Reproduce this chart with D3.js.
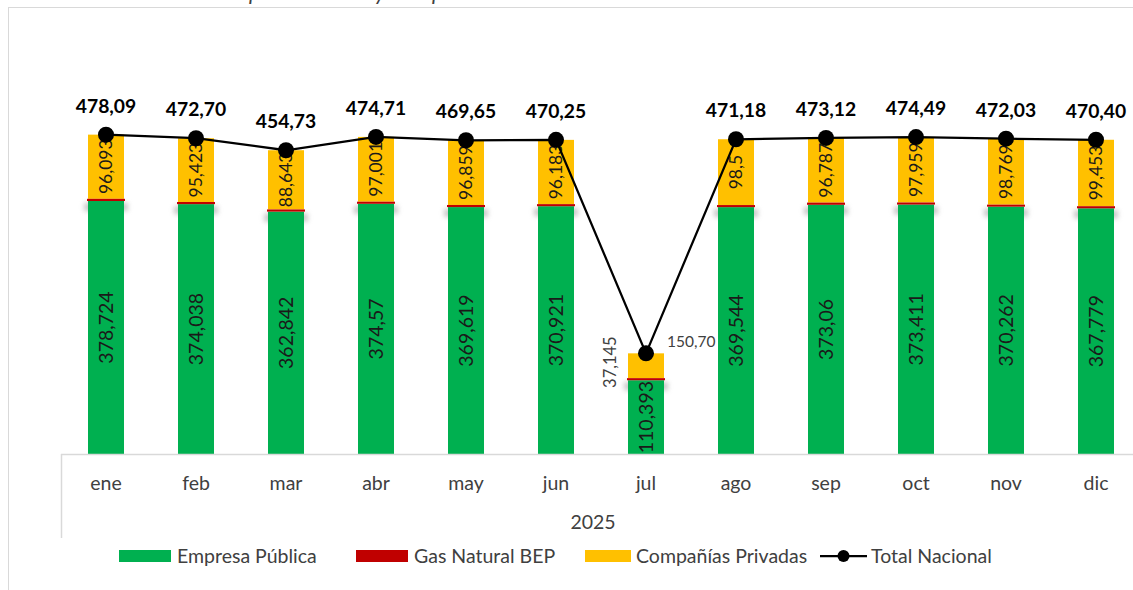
<!DOCTYPE html>
<html>
<head>
<meta charset="utf-8">
<script src="https://cdn.jsdelivr.net/npm/d3@7"></script>
<style>
  body { margin: 0; background: #fff; }
  svg { display: block; font-family: Lato, "Open Sans", sans-serif; }
</style>
</head>
<body>
<div id="chart"></div>
<script>
const months = ['ene', 'feb', 'mar', 'abr', 'may', 'jun', 'jul', 'ago', 'sep', 'oct', 'nov', 'dic']
const year = '2025'
const empresaPublica = [378.724, 374.038, 362.842, 374.57, 369.619, 370.921, 110.393, 369.544, 373.06, 373.411, 370.262, 367.779]
const gasNatural = [3.273, 3.239, 3.245, 3.139, 3.172, 3.146, 3.162, 3.136, 3.273, 3.12, 2.999, 3.168]
const privadas = [96.093, 95.423, 88.643, 97.001, 96.859, 96.183, 37.145, 98.5, 96.787, 97.959, 98.769, 99.453]
const totalNacional = [478.09, 472.70, 454.73, 474.71, 469.65, 470.25, 150.70, 471.18, 473.12, 474.49, 472.03, 470.40]
const seriesNames = ['Empresa Pública', 'Gas Natural BEP', 'Compañías Privadas', 'Total Nacional']
const seriesColors = ['#00b050', '#c00000', '#ffc000', '#000000']

const w = 1133
const h = 590
const axisY = 454
const fmt = (v, dec) => {
  const s = dec == null ? String(v) : v.toFixed(dec)
  return s.replace('.', ',')
}

const svg = d3.select('#chart')
  .append('svg')
  .attr('width', w)
  .attr('height', h)

const defs = svg.append('defs')
defs.append('filter')
  .attr('id', 'soft')
  .attr('x', '-50%').attr('y', '-100%')
  .attr('width', '200%').attr('height', '300%')
  .append('feGaussianBlur')
  .attr('stdDeviation', 2.5)

// frame (cut off at top/right)
svg.append('rect')
  .attr('x', 8.5).attr('y', 7.5)
  .attr('width', w + 20).attr('height', h + 20)
  .attr('fill', 'none')
  .attr('stroke', '#d9d9d9')

// title, sits above the picture: only descenders show
const title = svg.append('text')
  .attr('y', 0)
  .attr('font-size', 22)
  .attr('font-style', 'italic')
  .attr('fill', '#404040')
  .text('Producción de Crudo: Empresa Pública y Compañías Privadas')
const pIdx = title.text().indexOf('Empresa') + 2
const off = title.node().getSubStringLength(0, pIdx)
title.attr('x', 249 - off)

const xScale = d3.scaleBand()
  .domain(months)
  .range([61, 1141])
  .paddingInner(0.6)
  .paddingOuter(0.3)

const yScale = d3.scaleLinear()
  .domain([0, 500])
  .range([axisY, 120])

const bw = xScale.bandwidth()
const cx = m => xScale(m) + bw / 2

const rows = months.map((m, i) => ({
  m, i,
  g: empresaPublica[i],
  r: gasNatural[i],
  y: privadas[i],
  t: totalNacional[i]
}))

// soft shadow under the top of the green bars
svg.append('g')
  .selectAll('rect')
  .data(rows)
  .enter()
  .append('rect')
  .attr('x', d => xScale(d.m) - 4)
  .attr('y', d => yScale(d.g) + 2)
  .attr('width', bw + 8)
  .attr('height', 8)
  .attr('fill', '#9a9a9a')
  .attr('opacity', 0.55)
  .attr('filter', 'url(#soft)')

const bars = svg.append('g')
bars.selectAll('rect.green')
  .data(rows)
  .enter()
  .append('rect')
  .attr('class', 'green')
  .attr('x', d => xScale(d.m))
  .attr('y', d => yScale(d.g))
  .attr('width', bw)
  .attr('height', d => yScale(0) - yScale(d.g))
  .attr('fill', seriesColors[0])

bars.selectAll('rect.yellow')
  .data(rows)
  .enter()
  .append('rect')
  .attr('class', 'yellow')
  .attr('x', d => xScale(d.m))
  .attr('y', d => yScale(d.g + d.r + d.y))
  .attr('width', bw)
  .attr('height', d => yScale(d.g + d.r) - yScale(d.g + d.r + d.y))
  .attr('fill', seriesColors[2])

bars.selectAll('rect.red')
  .data(rows)
  .enter()
  .append('rect')
  .attr('class', 'red')
  .attr('x', d => xScale(d.m) - 1)
  .attr('y', d => yScale(d.g + d.r))
  .attr('width', bw + 2)
  .attr('height', d => yScale(d.g) - yScale(d.g + d.r))
  .attr('fill', seriesColors[1])

// green labels
svg.append('g')
  .selectAll('text')
  .data(rows)
  .enter()
  .append('text')
  .attr('transform', d => `translate(${cx(d.m)},${(yScale(d.g) + yScale(0)) / 2}) rotate(-90)`)
  .attr('text-anchor', 'middle')
  .attr('dy', '0.35em')
  .attr('font-size', 19.5)
  .attr('fill', '#1a1a1a')
  .text(d => fmt(d.g))

// yellow labels (july sits outside, to the left)
svg.append('g')
  .selectAll('text')
  .data(rows)
  .enter()
  .append('text')
  .attr('transform', d => {
    const top = yScale(d.g + d.r + d.y)
    const bot = yScale(d.g + d.r)
    if (d.m === 'jul') return `translate(${cx(d.m) - 36},${bot - 16}) rotate(-90)`
    return `translate(${cx(d.m)},${(top + bot) / 2}) rotate(-90)`
  })
  .attr('text-anchor', 'middle')
  .attr('dy', '0.35em')
  .attr('font-size', d => d.m === 'jul' ? 16.5 : 17.5)
  .attr('fill', d => d.m === 'jul' ? '#404040' : '#1a1a1a')
  .text(d => fmt(d.y))

// axis line and category/year dividers
svg.append('line')
  .attr('x1', 61).attr('x2', w)
  .attr('y1', axisY + 0.5).attr('y2', axisY + 0.5)
  .attr('stroke', '#d9d9d9')
  .attr('stroke-width', 1.5)
svg.append('line')
  .attr('x1', 61.5).attr('x2', 61.5)
  .attr('y1', axisY).attr('y2', 538)
  .attr('stroke', '#d9d9d9')
  .attr('stroke-width', 1.5)

const xAxis = d3.axisBottom(xScale).tickSize(0).tickPadding(0)
const xg = svg.append('g')
  .attr('transform', `translate(0,${axisY})`)
  .call(xAxis)
xg.select('.domain').remove()
xg.selectAll('text')
  .attr('y', 36)
  .attr('dy', 0)
  .attr('font-size', 19.5)
  .attr('font-family', 'Lato, sans-serif')
  .attr('fill', '#404040')

svg.append('text')
  .attr('x', 593)
  .attr('y', 529)
  .attr('text-anchor', 'middle')
  .attr('font-size', 19.5)
  .attr('fill', '#404040')
  .text(year)

// total line
const line = d3.line()
  .x(d => cx(d.m))
  .y(d => yScale(d.t))

svg.append('path')
  .datum(rows)
  .attr('d', line)
  .attr('fill', 'none')
  .attr('stroke', seriesColors[3])
  .attr('stroke-width', 2.25)

svg.append('g')
  .selectAll('circle')
  .data(rows)
  .enter()
  .append('circle')
  .attr('cx', d => cx(d.m))
  .attr('cy', d => yScale(d.t))
  .attr('r', 8)
  .attr('fill', seriesColors[3])

svg.append('g')
  .selectAll('text')
  .data(rows)
  .enter()
  .append('text')
  .attr('x', d => d.m === 'jul' ? cx(d.m) + 21 : cx(d.m))
  .attr('y', d => d.m === 'jul' ? yScale(d.t) - 6 : yScale(d.t) - 22)
  .attr('text-anchor', d => d.m === 'jul' ? 'start' : 'middle')
  .attr('font-size', d => d.m === 'jul' ? 15.5 : 19.3)
  .attr('font-weight', d => d.m === 'jul' ? 'normal' : 'bold')
  .attr('fill', d => d.m === 'jul' ? '#404040' : '#000')
  .text(d => fmt(d.t, 2))

// legend
const legendX = [119, 356, 585, 820]
const legend = svg.append('g')
  .selectAll('g')
  .data(seriesNames)
  .enter()
  .append('g')
  .attr('transform', (d, i) => `translate(${legendX[i]},556)`)

legend.filter((d, i) => i < 3)
  .append('rect')
  .attr('x', 0)
  .attr('y', -6)
  .attr('width', (d, i) => i === 2 ? 46 : 52)
  .attr('height', 12)
  .attr('fill', (d, i) => seriesColors[i])

const lineItem = legend.filter((d, i) => i === 3)
lineItem.append('line')
  .attr('x1', 0).attr('x2', 47)
  .attr('y1', 0).attr('y2', 0)
  .attr('stroke', '#000')
  .attr('stroke-width', 2.25)
lineItem.append('circle')
  .attr('cx', 23.5).attr('cy', 0).attr('r', 6)
  .attr('fill', '#000')

legend.append('text')
  .attr('x', (d, i) => i === 2 ? 51 : (i === 3 ? 51 : 58))
  .attr('dy', '0.35em')
  .attr('font-size', 19.5)
  .attr('fill', '#404040')
  .text(d => d)
</script>
</body>
</html>
